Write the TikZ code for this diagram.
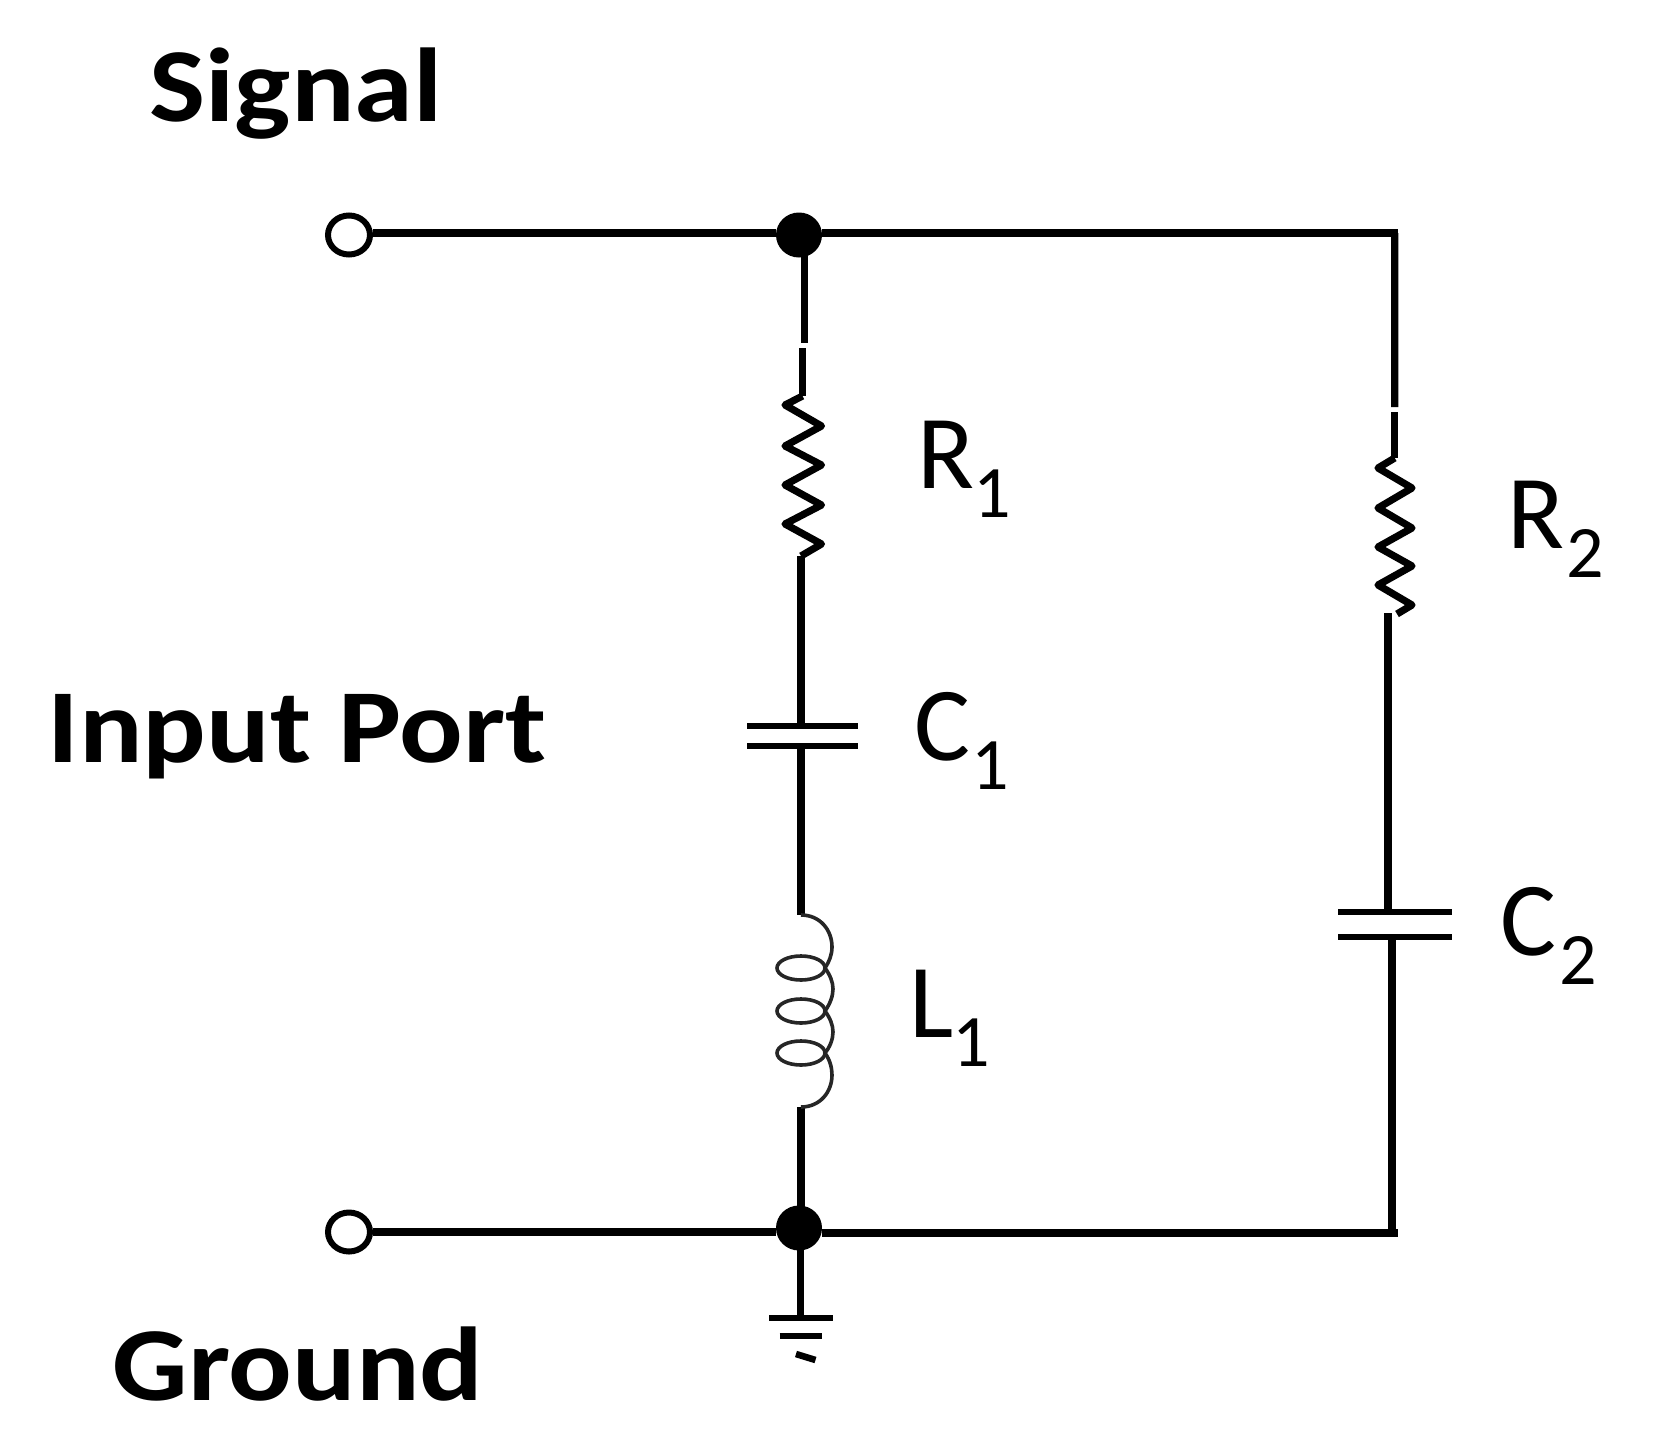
\documentclass[tikz,border=0pt]{standalone}
\usepackage{fontspec}
\setmainfont{Carlito}
\usetikzlibrary{shapes.geometric}
\newcommand{\complab}[3]{#1\kern#3pt\raisebox{-14.5pt}{\fontsize{37}{37}\selectfont #2}}
\tikzset{
  wire/.style={line width=3.6pt,black,line cap=butt},
  zig/.style={line width=3.6pt,black,line join=round},
  coil/.style={line width=1.8pt,black!85},
  plate/.style={line width=3.3pt,black},
  term/.style={ellipse,draw=black,line width=3pt,fill=white,minimum width=21pt,minimum height=19.5pt,inner sep=0pt},
  junction/.style={ellipse,fill=black,minimum width=23pt,minimum height=22.5pt,inner sep=0pt},
  bigtext/.style={anchor=base west,inner sep=0pt,xscale=1.13,font=\fontsize{52.5}{52.5}\selectfont\bfseries},
  comptext/.style={anchor=base west,inner sep=0pt,font=\fontsize{52.5}{52.5}\selectfont},
}
\begin{document}
\begin{tikzpicture}[x=0.5pt,y=-0.5pt]
\useasboundingbox[fill=white] (0,0) rectangle (1654,1445);
% texts
\node[bigtext] (signal) at (149,121) {Signal};
\node[bigtext] (input) at (47,762) {Input Port};
\node[bigtext] (ground) at (112,1400) {Ground};
\node[comptext] (Ra) at (917,488) {\complab{R}{1}{-0.7}};
\node[comptext] (Rb) at (1507,548) {\complab{R}{2}{0.9}};
\node[comptext] (Ca) at (914,760) {\complab{C}{1}{0.6}};
\node[comptext] (Cb) at (1500,955) {\complab{C}{2}{1.5}};
\node[comptext] (La) at (909,1037) {\complab{L}{1}{-0.7}};
% terminals and junctions
\node[term] (sigIn) at (349,235) {};
\node[term] (gndIn) at (349,1232) {};
\node[junction] (dotTop) at (799,235) {};
\node[junction] (dotBot) at (799,1228) {};
% fixed points
\coordinate (cornerTR) at (1398,233);
\coordinate (cornerBR) at (1398,1233);
\coordinate (a1) at (804.4,343);
\coordinate (a2) at (802.5,348);
\coordinate (a3) at (802.5,396);
\coordinate (a4) at (801,556);
\coordinate (a5) at (801,726);
\coordinate (a6) at (801,746);
\coordinate (a7) at (801,915);
\coordinate (a8) at (801,1107);
\coordinate (b1) at (1394.7,407);
\coordinate (b2) at (1394.7,412);
\coordinate (b3) at (1394.7,458);
\coordinate (b4) at (1388,613);
\coordinate (b5) at (1388,912);
\coordinate (b6) at (1392,937);
\coordinate (g1) at (800.6,1318);
% wires
\draw[wire] ([yshift=1pt]sigIn.east) -- ([yshift=1pt]dotTop.west);
\draw[wire] ([yshift=1pt]dotTop.east) -- (cornerTR);
\draw[wire] ([xshift=-1.65pt]cornerTR) -- (b1);
\draw[wire] (b2) -- (b3);
\draw[wire] (b4) -- (b5);
\draw[wire] (b6) -- (b6 |- cornerBR);
\draw[wire] (gndIn.east) -- (gndIn.east -| dotBot.west);
\draw[wire] ([yshift=-2.5pt]dotBot.east) -- (cornerBR);
\draw[wire] ([xshift=2.7pt]dotTop.center) -- (a1);
\draw[wire] (a2) -- (a3);
\draw[wire] (a4) -- (a5);
\draw[wire] (a6) -- (a7);
\draw[wire] (a8) -- (a8 |- dotBot.center);
\draw[wire] (dotBot.center -| g1) -- (g1);
% resistors
\draw[zig] (a3) -- (785,405) -- (821.5,426) -- (785,446) -- (821.5,465) -- (785,485) -- (821.5,505) -- (785,524) -- (821.5,544) -- (a4);
\draw[zig] (b3) -- (1378,468) -- (1412,488) -- (1378,508) -- (1412,528) -- (1378,547) -- (1412,566) -- (1378,585) -- (1412,605) -- (1397,614);
% capacitors
\draw[plate] (747,726) -- (858,726);
\draw[plate] (747,746) -- (858,746);
\draw[plate] (1338,912) -- (1452,912);
\draw[plate] (1338,937) -- (1452,937);
% inductor
\draw[coil] (a7) .. controls (820,915) and (832,930) .. (832,947) .. controls (832,955) and (829,962) .. (825,968)
  .. controls (830,975) and (833,982) .. (833,989) .. controls (833,996) and (830,1004) .. (825,1011)
  .. controls (830,1018) and (833,1025) .. (833,1032) .. controls (833,1039) and (830,1047) .. (825,1053)
  .. controls (830,1060) and (832,1068) .. (832,1075) .. controls (832,1092) and (820,1107) .. (a8);
\draw[coil] (801,968) ellipse [x radius=24,y radius=12];
\draw[coil] (801,1011) ellipse [x radius=24,y radius=12];
\draw[coil] (801,1053) ellipse [x radius=24,y radius=12];
% ground
\draw[plate] (769,1318) -- (833,1318);
\draw[plate] (779.5,1336) -- (822,1336);
\draw[plate] (796,1354) -- (815.5,1360);
\end{tikzpicture}
\end{document}
